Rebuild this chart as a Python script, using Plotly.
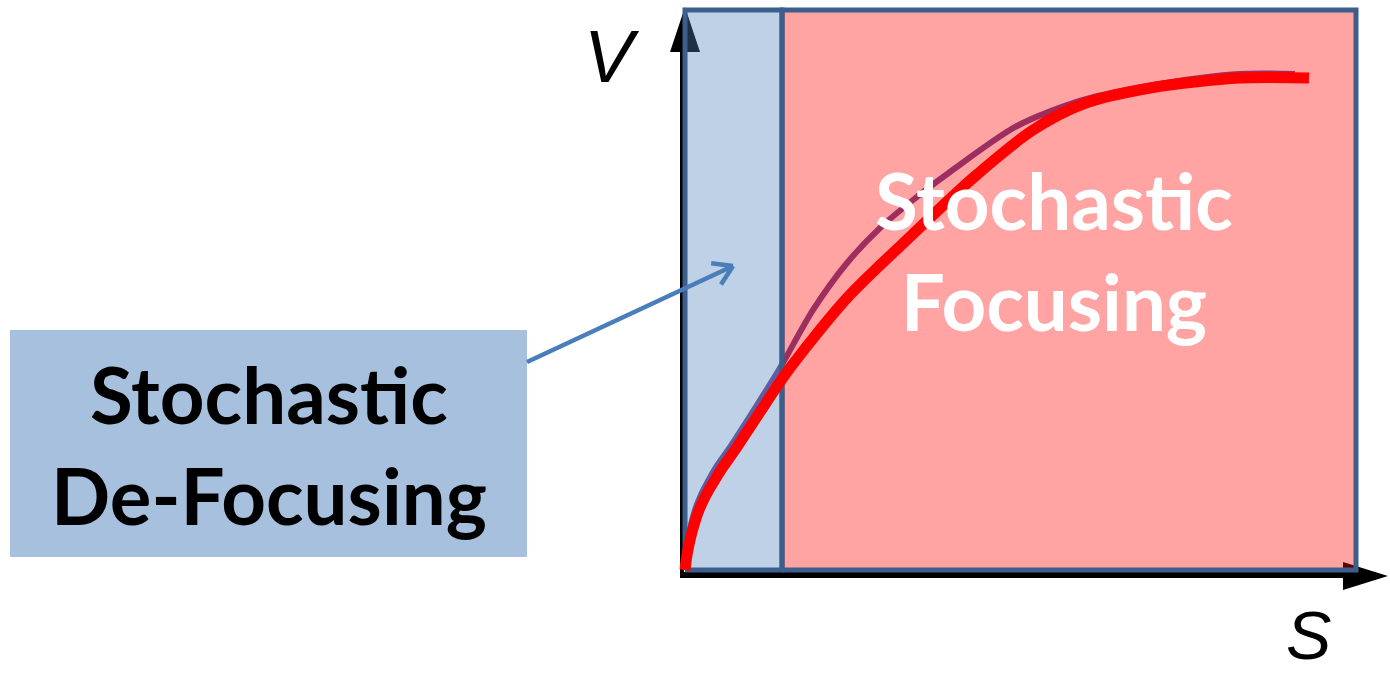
import math
import plotly.graph_objects as go

# ---------------- data (chart units: S horizontal, V vertical) ----------------
# thick red curve
red_s = [0.0, 0.0030, 0.0075, 0.0134, 0.0209, 0.0298, 0.0417, 0.0566, 0.0745, 0.1118,
         0.1520, 0.2414, 0.3398, 0.4292, 0.5186, 0.5931, 0.6930, 0.8271, 0.9300]
red_v = [0.0, 0.0268, 0.0536, 0.0804, 0.1071, 0.1304, 0.1554, 0.1839, 0.2143, 0.2821,
         0.3536, 0.4857, 0.6000, 0.7000, 0.7857, 0.8321, 0.8607, 0.8786, 0.8786]
# thin purple curve
thin_s = [0.0, 0.0015, 0.0045, 0.0089, 0.0149, 0.0224, 0.0328, 0.0462, 0.0641, 0.1073,
          0.1416, 0.1908, 0.2414, 0.2906, 0.3398, 0.3949, 0.4948, 0.5931, 0.7079,
          0.8271, 0.9091]
thin_v = [0.0, 0.0268, 0.0536, 0.0804, 0.1071, 0.1304, 0.1554, 0.1839, 0.2143, 0.2946,
          0.3607, 0.4643, 0.5482, 0.6107, 0.6607, 0.7107, 0.7929, 0.8393, 0.8679,
          0.8857, 0.8857]
# regions
region_names = ["Stochastic<br>De-Focusing", "Stochastic<br>Focusing"]
region_s_bounds = [0.0, 0.1446, 1.0]
region_v_bounds = [0.0, 1.0]
axis_labels = ["V", "S"]

# ---------------- geometry ----------------
W, H = 1390, 675
ORX, ORY = 685.0, 570.0      # pixel of origin
SU, VU = 671.0, 560.0        # pixels per unit

def px(p):
    return p / W

def py(p):
    return 1 - p / H

x_range = [(0 - ORX) / SU, (W - ORX) / SU]
y_range = [(ORY - H) / VU, ORY / VU]

fig = go.Figure()

# thin curve (beneath the translucent regions)
fig.add_trace(go.Scatter(x=thin_s, y=thin_v, mode="lines",
                         line=dict(color="rgb(105,72,150)", width=6, shape="spline",
                                   smoothing=0.8),
                         hoverinfo="skip"))

# regions
fills = ["rgba(79,129,189,0.37)", "rgba(255,0,0,0.36)"]
for i in range(2):
    s0, s1 = region_s_bounds[i], region_s_bounds[i + 1]
    v0, v1 = region_v_bounds
    fig.add_trace(go.Scatter(x=[s0, s1, s1, s0, s0], y=[v0, v0, v1, v1, v0],
                             mode="lines", fill="toself", fillcolor=fills[i],
                             line=dict(color="#3B5E8C", width=5),
                             hoverinfo="skip"))

# thick red curve
fig.add_trace(go.Scatter(x=red_s, y=red_v, mode="lines",
                         line=dict(color="#FF0000", width=11, shape="spline",
                                   smoothing=0.8),
                         hoverinfo="skip"))

shapes = []
# axes (black lines + arrowheads), drawn beneath traces
shapes.append(dict(type="line", xref="paper", yref="paper", layer="below",
                   x0=px(682), y0=py(577), x1=px(682), y1=py(30),
                   line=dict(color="black", width=4)))
shapes.append(dict(type="line", xref="paper", yref="paper", layer="below",
                   x0=px(680), y0=py(575), x1=px(1360), y1=py(575),
                   line=dict(color="black", width=6)))
shapes.append(dict(type="path", xref="paper", yref="paper", layer="below",
                   path=f"M{px(685)},{py(7)} L{px(700)},{py(52)} L{px(670)},{py(52)} Z",
                   fillcolor="black", line=dict(width=0)))
shapes.append(dict(type="path", xref="paper", yref="paper", layer="below",
                   path=f"M{px(1388)},{py(576)} L{px(1343)},{py(590)} L{px(1343)},{py(562)} Z",
                   fillcolor="black", line=dict(width=0)))
# label box
shapes.append(dict(type="rect", xref="paper", yref="paper", layer="below",
                   x0=px(10), y0=py(557), x1=px(527), y1=py(330),
                   fillcolor="#A7C0DE", line=dict(width=0)))
# pointer arrow
tail = (527.0, 362.0)
tip = (733.0, 266.0)
ang = math.atan2(tip[1] - tail[1], tip[0] - tail[0])
shapes.append(dict(type="line", xref="paper", yref="paper", layer="above",
                   x0=px(tail[0]), y0=py(tail[1]), x1=px(tip[0]), y1=py(tip[1]),
                   line=dict(color="#4A7EBB", width=4.5)))
for d in (math.radians(148), math.radians(-148)):
    a = ang + d
    ex, ey = tip[0] + 22 * math.cos(a), tip[1] + 22 * math.sin(a)
    shapes.append(dict(type="line", xref="paper", yref="paper", layer="above",
                       x0=px(tip[0]), y0=py(tip[1]), x1=px(ex), y1=py(ey),
                       line=dict(color="#4A7EBB", width=4.5)))

annotations = [
    dict(text=f"<b>{region_names[0]}</b>", xref="paper", yref="paper",
         x=px(269), y=py(445), xanchor="center", yanchor="middle", showarrow=False,
         font=dict(family="Lato", size=78, color="black")),
    dict(text=f"<b>{region_names[1]}</b>", xref="paper", yref="paper",
         x=px(1054), y=py(250), xanchor="center", yanchor="middle", showarrow=False,
         font=dict(family="Lato", size=78, color="white")),
    dict(text=f"<i>{axis_labels[0]}</i>", xref="paper", yref="paper",
         x=px(612), y=py(57), xanchor="center", yanchor="middle", showarrow=False,
         font=dict(family="Liberation Sans", size=74, color="black")),
    dict(text=f"<i>{axis_labels[1]}</i>", xref="paper", yref="paper",
         x=px(1308), y=py(675), xanchor="center", yanchor="bottom", showarrow=False,
         font=dict(family="Liberation Sans", size=68, color="black")),
]

fig.update_layout(
    width=W, height=H,
    margin=dict(l=0, r=0, t=0, b=0),
    paper_bgcolor="white", plot_bgcolor="rgba(0,0,0,0)",
    showlegend=False,
    xaxis=dict(range=x_range, visible=False, fixedrange=True),
    yaxis=dict(range=y_range, visible=False, fixedrange=True),
    shapes=shapes, annotations=annotations,
)

fig.write_html("out.html", config={"displayModeBar": False},
               post_script="document.body.style.margin='0';")
